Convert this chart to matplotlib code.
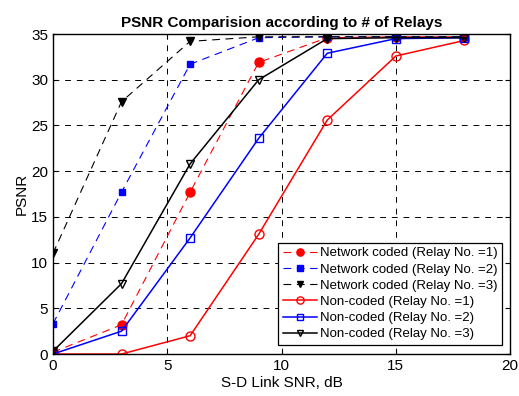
import matplotlib
matplotlib.use('Agg')
import matplotlib.pyplot as plt

plt.rcParams['font.family'] = ['Liberation Sans', 'DejaVu Sans']

# S-D link SNR (dB)
snr = [0, 3, 6, 9, 12, 15, 18]

# Network coded PSNR
nc_relay1 = [0.2, 3.2, 17.7, 31.9, 34.6, 34.7, 34.7]
nc_relay2 = [3.3, 17.7, 31.7, 34.6, 34.7, 34.7, 34.7]
nc_relay3 = [11.0, 27.6, 34.2, 34.7, 34.7, 34.7, 34.7]

# Non-coded PSNR
un_relay1 = [0.0, 0.0, 2.0, 13.1, 25.6, 32.6, 34.3]
un_relay2 = [0.0, 2.5, 12.7, 23.6, 32.9, 34.5, 34.6]
un_relay3 = [0.3, 7.7, 20.8, 30.0, 34.5, 34.6, 34.6]

labels = ['Network coded (Relay No. =1)', 'Network coded (Relay No. =2)',
          'Network coded (Relay No. =3)', 'Non-coded (Relay No. =1)',
          'Non-coded (Relay No. =2)', 'Non-coded (Relay No. =3)']

fig = plt.figure(figsize=(5.19, 3.96), dpi=100)
ax = fig.add_axes([0.102, 0.106, 0.881, 0.808])

dash = (0, (7, 5))
ax.plot(snr, nc_relay1, color='r', ls=dash, marker='o', ms=6.5, lw=0.8, label=labels[0])
ax.plot(snr, nc_relay2, color='b', ls=dash, marker='s', ms=5, lw=0.8, label=labels[1])
ax.plot(snr, nc_relay3, color='k', ls=dash, marker='v', ms=5.5, lw=0.8, label=labels[2])
ax.plot(snr, un_relay1, 'r-', marker='o', ms=6.5, mfc='none', lw=1.1, label=labels[3])
ax.plot(snr, un_relay2, 'b-', marker='s', ms=5.5, mfc='none', lw=1.1, label=labels[4])
ax.plot(snr, un_relay3, 'k-', marker='v', ms=6, mfc='none', lw=1.1, label=labels[5])

ax.set_xlim(0, 20)
ax.set_ylim(0, 35)
ax.set_xticks([0, 5, 10, 15, 20])
ax.set_yticks([0, 5, 10, 15, 20, 25, 30, 35])
ax.grid(True, color='black', linestyle=(0, (6, 6)), linewidth=0.7)
ax.tick_params(direction='in', top=True, right=True, labelsize=11)
for s in ax.spines.values():
    s.set_linewidth(1.0)

ax.set_xlabel('S-D Link SNR, dB', fontsize=11, labelpad=2)
ax.set_ylabel('PSNR', fontsize=11, labelpad=2)
ax.set_title('PSNR Comparision according to # of Relays', fontsize=11,
             fontweight='bold', pad=5)

leg = ax.legend(loc='lower right', bbox_to_anchor=(0.982, 0.028), fontsize=9.5,
                fancybox=False, edgecolor='black', framealpha=1,
                handlelength=2.6, handletextpad=0.2, borderpad=0.35,
                labelspacing=0.3, markerscale=0.8, borderaxespad=0)
leg.get_frame().set_linewidth(0.9)

fig.savefig('out.png', dpi=100)
